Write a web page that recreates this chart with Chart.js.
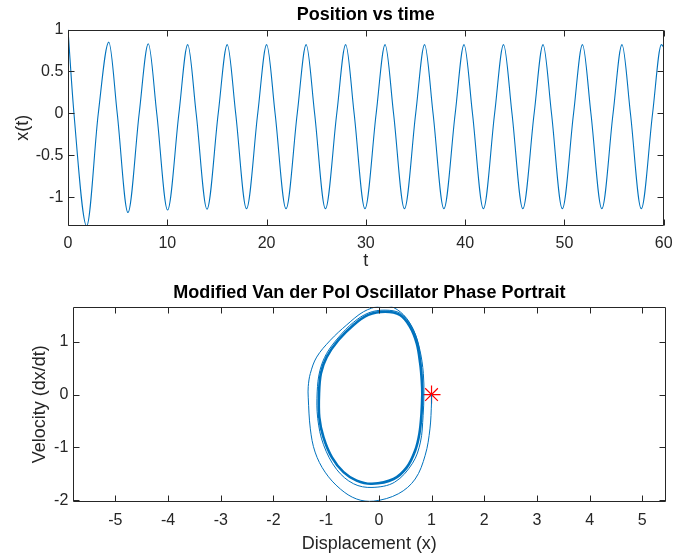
<!DOCTYPE html>
<html>
<head>
<meta charset="utf-8">
<script src="https://cdn.jsdelivr.net/npm/chart.js@4.4.1/dist/chart.umd.min.js"></script>
<style>
  html, body { margin: 0; padding: 0; background: #fff; }
  #wrap { position: relative; width: 681px; height: 559px; }
  #posChart { position: absolute; left: 0; top: 0; }
  #phaseChart { position: absolute; left: 0; top: 280px; }
</style>
</head>
<body>
<div id="wrap">
  <canvas id="posChart" width="681" height="280"></canvas>
  <canvas id="phaseChart" width="681" height="279"></canvas>
</div>
<script>
// ------------------------------------------
// DATA
// ------------------------------------------
// x(t): start, then trough / rising zero / peak / falling zero per cycle
const timeT = [
  0, 0.6,
  1.88, 3.05, 4.11, 4.96,
  6.04, 7.17, 8.09, 8.94,
  10.03, 11.17, 12.06, 12.91,
  14.0, 15.13, 16.04, 16.89,
  17.98, 19.11, 20.01, 20.86,
  21.96, 23.09, 23.99, 24.84,
  25.93, 27.07, 27.97, 28.82,
  29.91, 31.04, 31.94, 32.79,
  33.89, 35.02, 35.92, 36.77,
  37.86, 39.0, 39.89, 40.74,
  41.84, 42.97, 43.87, 44.72,
  45.81, 46.95, 47.85, 48.7,
  49.79, 50.92, 51.82, 52.67,
  53.77, 54.9, 55.8, 56.65,
  57.74, 58.88, 59.77, 60
];
const posX = [
  1, 0,
  -1.34, 0, 0.85, 0,
  -1.18, 0, 0.83, 0,
  -1.15, 0, 0.82, 0,
  -1.14, 0, 0.82, 0,
  -1.135, 0, 0.82, 0,
  -1.135, 0, 0.82, 0,
  -1.135, 0, 0.82, 0,
  -1.135, 0, 0.82, 0,
  -1.135, 0, 0.82, 0,
  -1.135, 0, 0.82, 0,
  -1.135, 0, 0.82, 0,
  -1.135, 0, 0.82, 0,
  -1.135, 0, 0.82, 0,
  -1.135, 0, 0.82, 0,
  -1.135, 0, 0.82, 0.79
];
const tTicks = [0, 10, 20, 30, 40, 50, 60];
const xTicks = [-1, -0.5, 0, 0.5, 1];

// phase portrait: transient from the start point, then the settled loop
const transX = [
  1.0, 1.0, 0.97, 0.88, 0.69, 0.37, -0.1, -0.42, -0.73, -1.02, -1.21, -1.3,
  -1.34, -1.34, -1.3, -1.18, -0.92, -0.61, -0.29, 0.02, 0.21, 0.47, 0.66, 0.78, 0.845, 0.855,
  0.84, 0.79, 0.64, 0.3, -0.13, -0.48, -0.8, -1.05, -1.16, -1.17, -1.12, -0.99,
  -0.76, -0.48, -0.19, 0.12, 0.41, 0.61, 0.74, 0.8, 0.825, 0.83, 0.815
];
const transV = [
  0, -0.14, -0.65, -1.15, -1.6, -1.88, -2.02, -1.98, -1.79, -1.47, -1.09, -0.65,
  -0.05, 0.15, 0.4, 0.71, 1.03, 1.32, 1.57, 1.68, 1.68, 1.51, 1.22, 0.84, 0.4, 0,
  -0.4, -0.9, -1.3, -1.66, -1.76, -1.69, -1.42, -0.95, -0.45, 0.05, 0.45, 0.78,
  1.09, 1.37, 1.55, 1.6, 1.54, 1.31, 0.99, 0.6, 0.27, 0, -0.36
];
const cycleX = [
  0.825, 0.81, 0.77, 0.69, 0.53, 0.28, -0.13, -0.42, -0.67, -0.89, -1.05, -1.13,
  -1.135, -1.1, -0.99, -0.77, -0.48, -0.2, 0.12, 0.4, 0.59, 0.72, 0.785, 0.815, 0.825, 0.81
];
const cycleV = [
  0, -0.36, -0.74, -1.06, -1.38, -1.6, -1.69, -1.63, -1.47, -1.19, -0.81, -0.43,
  0.02, 0.4, 0.71, 1.03, 1.32, 1.51, 1.57, 1.51, 1.29, 0.97, 0.59, 0.27, 0, -0.36
];
const startX = [1];
const startV = [0];
const dispTicks = [-5, -4, -3, -2, -1, 0, 1, 2, 3, 4, 5];
const velTicks = [-2, -1, 0, 1];

// ------------------------------------------
// STYLE
// ------------------------------------------
const FONT = "'Liberation Sans', Arial, Helvetica, sans-serif";
const AXIS_COLOR = "#262626";
const LINE_BLUE = "#0072BD";

const toPoints = (xs, ys) => xs.map((x, i) => ({ x: x, y: ys[i] }));

// MATLAB-like box with inward ticks on all four sides
const boxAndTicks = {
  id: "boxAndTicks",
  afterDraw(chart) {
    const { ctx, chartArea: a, scales } = chart;
    const L = 6;
    const left = Math.round(a.left) + 0.5;
    const right = Math.round(a.right) - 0.5;
    const top = Math.round(a.top) + 0.5;
    const bottom = Math.round(a.bottom) - 0.5;
    ctx.save();
    ctx.strokeStyle = AXIS_COLOR;
    ctx.lineWidth = 1;
    ctx.beginPath();
    ctx.rect(left, top, right - left, bottom - top);
    scales.x.ticks.forEach(t => {
      const px = Math.round(scales.x.getPixelForValue(t.value)) + 0.5;
      ctx.moveTo(px, bottom); ctx.lineTo(px, bottom - L);
      ctx.moveTo(px, top); ctx.lineTo(px, top + L);
    });
    scales.y.ticks.forEach(t => {
      const py = Math.round(scales.y.getPixelForValue(t.value)) + 0.5;
      ctx.moveTo(left, py); ctx.lineTo(left + L, py);
      ctx.moveTo(right, py); ctx.lineTo(right - L, py);
    });
    ctx.stroke();
    ctx.restore();
  }
};

function axis(opts) {
  return {
    type: "linear",
    min: opts.min,
    max: opts.max,
    afterBuildTicks: s => { s.ticks = opts.ticks.map(v => ({ value: v })); },
    afterFit: opts.fit,
    grid: { display: false, drawTicks: false },
    border: { display: false },
    ticks: {
      color: AXIS_COLOR,
      font: { family: FONT, size: 16 },
      padding: opts.tickPad,
      autoSkip: false,
      maxRotation: 0,
      callback: v => String(v)
    },
    title: {
      display: true,
      text: opts.label,
      color: AXIS_COLOR,
      font: { family: FONT, size: 18 },
      padding: opts.titlePad
    }
  };
}

// ------------------------------------------
// POSITION VS TIME
// ------------------------------------------
new Chart(document.getElementById("posChart"), {
  type: "line",
  data: {
    datasets: [{
      data: toPoints(timeT, posX),
      borderColor: LINE_BLUE,
      borderWidth: 1.1,
      pointRadius: 0,
      cubicInterpolationMode: "monotone",
      fill: false
    }]
  },
  options: {
    responsive: false,
    animation: false,
    events: [],
    layout: { padding: { left: 0, right: 10, top: 0, bottom: 0 } },
    plugins: {
      legend: { display: false },
      tooltip: { enabled: false },
      title: {
        display: true,
        fullSize: false,
        text: "Position vs time",
        color: "#000",
        font: { family: FONT, size: 18, weight: "bold" },
        padding: { top: 4.2, bottom: 3.7 }
      }
    },
    scales: {
      x: axis({ min: 0, max: 60, ticks: tTicks, label: "t", tickPad: 8.4,
        titlePad: { top: 0, bottom: 8 }, fit: s => { s.height = 54; } }),
      y: axis({ min: -1.34, max: 1, ticks: xTicks, label: "x(t)", tickPad: 4.7,
        titlePad: { top: 12.2, bottom: 0 }, fit: s => { s.width = 68; } })
    }
  },
  plugins: [boxAndTicks]
});

// ------------------------------------------
// PHASE PORTRAIT
// ------------------------------------------
new Chart(document.getElementById("phaseChart"), {
  type: "scatter",
  data: {
    datasets: [
      {
        data: toPoints(transX, transV),
        showLine: true,
        borderColor: LINE_BLUE,
        borderWidth: 1,
        pointRadius: 0,
        tension: 0.35
      },
      {
        data: toPoints(cycleX, cycleV),
        showLine: true,
        borderColor: LINE_BLUE,
        borderWidth: 2.6,
        pointRadius: 0,
        tension: 0.35
      },
      {
        data: toPoints(startX, startV),
        pointStyle: "star",
        radius: 9,
        borderColor: "#FF0000",
        borderWidth: 1.2,
        backgroundColor: "#FF0000"
      },
      {
        data: toPoints(startX, startV),
        pointStyle: "circle",
        radius: 1.6,
        borderWidth: 0,
        backgroundColor: "#FF0000"
      }
    ]
  },
  options: {
    responsive: false,
    animation: false,
    events: [],
    layout: { padding: { left: 0, right: 15, top: 0, bottom: 0 } },
    plugins: {
      legend: { display: false },
      tooltip: { enabled: false },
      title: {
        display: true,
        fullSize: false,
        text: "Modified Van der Pol Oscillator Phase Portrait",
        color: "#000",
        font: { family: FONT, size: 18, weight: "bold" },
        padding: { top: 2.5, bottom: 2.6 }
      }
    },
    scales: {
      x: axis({ min: -5.81, max: 5.45, ticks: dispTicks, label: "Displacement (x)", tickPad: 9,
        titlePad: { top: 0, bottom: 4.2 }, fit: s => { s.height = 57.3; } }),
      y: axis({ min: -2.03, max: 1.665, ticks: velTicks, label: "Velocity (dx/dt)", tickPad: 4.4,
        titlePad: { top: 29.2, bottom: 0 }, fit: s => { s.width = 72.7; } })
    }
  },
  plugins: [boxAndTicks]
});
</script>
</body>
</html>
